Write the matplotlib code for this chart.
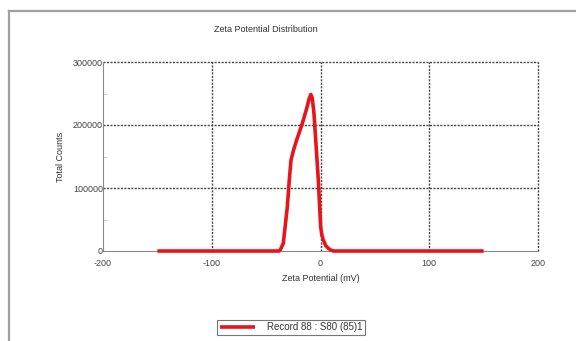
import matplotlib
matplotlib.use("Agg")
import matplotlib.pyplot as plt
from matplotlib.lines import Line2D
from matplotlib.ticker import MultipleLocator

plt.rcParams['font.family'] = ['Liberation Sans', 'DejaVu Sans']

zeta_mv = [-150, -38.0, -36.6, -34.2, -30.5, -28.7, -27.1, -24.5, -21.9, -16.7,
           -12.7, -10.2, -8.9, -7.6, -6.0, -2.0, 0.15, 1.3, 2.6, 4.8, 7.2, 9.5,
           11.8, 150]
counts = [0, 0, 3000, 12200, 70400, 112700, 144400, 162000, 176200, 202600,
          226400, 243000, 248500, 243000, 218500, 112700, 38600, 25000, 17500,
          8500, 4200, 1500, 0, 0]
x_ticks = [-200, -100, 0, 100, 200]
y_ticks = [0, 100000, 200000, 300000]
legend_label = "Record 88 : S80 (85)1"

fig = plt.figure(figsize=(5.76, 3.41), dpi=100)
fig.patch.set_facecolor('white')

# outer frame (left and top edges)
fig.add_artist(Line2D([9/576, 9/576], [0, 1 - 11/341], transform=fig.transFigure,
                      color='#a0a0a0', lw=1.6))
fig.add_artist(Line2D([9/576, 1], [1 - 11/341, 1 - 11/341], transform=fig.transFigure,
                      color='#a0a0a0', lw=1.6))

ax = fig.add_axes([103/576, 90/341, (538-103)/576, (251-62)/341])
ax.set_xlim(-200, 200)
ax.set_ylim(0, 300000)

for s in ['top', 'right']:
    ax.spines[s].set_visible(False)
for s in ['left', 'bottom']:
    ax.spines[s].set_color('#888888')
    ax.spines[s].set_linewidth(0.8)

ax.set_xticks(x_ticks)
ax.set_yticks(y_ticks)
ax.set_xticklabels([str(v) for v in x_ticks])
ax.set_yticklabels([str(v) for v in y_ticks])
ax.yaxis.set_minor_locator(MultipleLocator(50000))
ax.tick_params(axis='both', which='major', length=0, labelsize=6.5, colors='#444444')
ax.tick_params(axis='y', which='major', pad=0)
ax.tick_params(axis='x', which='major', pad=6)
ax.tick_params(axis='y', which='minor', length=3, direction='in', color='#bbbbbb')

for xv in x_ticks[1:]:
    ax.axvline(xv, color='#444444', lw=1.0, ls=(0, (1.5, 1)), clip_on=False, zorder=1)
for yv in y_ticks[1:]:
    ax.axhline(yv, color='#444444', lw=1.0, ls=(0, (1.5, 1)), clip_on=False, zorder=1)

line, = ax.plot(zeta_mv, counts, color='#e8141c', lw=2.6, solid_joinstyle='round',
                solid_capstyle='butt', clip_on=False, zorder=3)

ax.set_xlabel("Zeta Potential (mV)", fontsize=6.5, color='#333333', labelpad=4)
ax.set_ylabel("Total Counts", fontsize=6.5, color='#333333', labelpad=6)

fig.text(266/576, 1 - 30/341, "Zeta Potential Distribution", fontsize=6.5,
         color='#333333', ha='center', va='center')

leg = fig.legend([line], [legend_label], loc='center', bbox_to_anchor=(291/576, 1 - 327.5/341),
                 fontsize=7, frameon=True, fancybox=False, borderpad=0.25,
                 handlelength=3.6, handletextpad=1.2, borderaxespad=0,
                 handleheight=0.6)
leg.get_frame().set_edgecolor('#555555')
leg.get_frame().set_linewidth(0.8)
for t in leg.get_texts():
    t.set_color('#333333')

fig.savefig("out.png", dpi=100, facecolor='white')
